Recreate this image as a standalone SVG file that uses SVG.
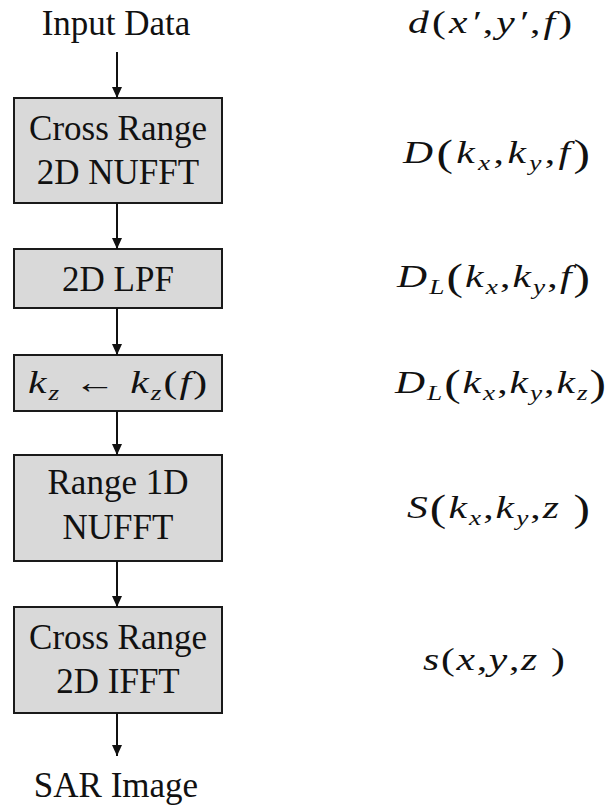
<svg xmlns="http://www.w3.org/2000/svg" width="607" height="806" viewBox="0 0 607 806">
<defs>
<marker id="ah" viewBox="0 0 11 10" refX="11" refY="5" markerWidth="11" markerHeight="10" orient="auto" markerUnits="userSpaceOnUse">
<path d="M0,0 L11,5 L0,10 z" fill="#111"/>
</marker>
<style>
.box{fill:#d9d9d9;stroke:#1a1a1a;stroke-width:2}
.t{font-family:'Liberation Serif','Times New Roman',serif;font-size:35px;fill:#111;text-anchor:middle}
.m{font-family:'Liberation Serif','Times New Roman',serif;font-style:italic;font-size:32px;fill:#111}
.sub{font-size:21px}
.bp{font-size:38px;font-style:normal}
.edge{stroke:#111;stroke-width:2;fill:none;marker-end:url(#ah)}
</style>
</defs>
<rect width="607" height="806" fill="#fff"/>
<g id="input"><text class="t" x="116" y="35">Input Data</text></g>
<g id="n1"><rect class="box" x="14" y="98" width="208" height="105"/>
<text class="t" x="118" y="140">Cross Range</text><text class="t" x="118" y="184">2D NUFFT</text></g>
<g id="n2"><rect class="box" x="14" y="249" width="208" height="59"/>
<text class="t" x="118" y="291">2D LPF</text></g>
<g id="n3"><rect class="box" x="14" y="355" width="208" height="56"/>
<text class="m" transform="translate(28,393) scale(1.3,1)" x="0" y="0" textLength="137.7" lengthAdjust="spacing">k<tspan class="sub" dy="7">z</tspan><tspan dy="-7" font-style="normal">  ← </tspan>k<tspan class="sub" dy="7">z</tspan><tspan dy="-7" font-style="normal">(</tspan>f<tspan font-style="normal">)</tspan></text></g>
<g id="n4"><rect class="box" x="14" y="455" width="208" height="106"/>
<text class="t" x="118" y="494">Range 1D</text><text class="t" x="118" y="539">NUFFT</text></g>
<g id="n5"><rect class="box" x="14" y="607" width="208" height="106"/>
<text class="t" x="118" y="649">Cross Range</text><text class="t" x="118" y="693">2D IFFT</text></g>
<g id="output"><text class="t" x="116" y="797">SAR Image</text></g>
<g id="connectors">
<line class="edge" x1="117" y1="52" x2="117" y2="98"/>
<line class="edge" x1="117" y1="203" x2="117" y2="249"/>
<line class="edge" x1="117" y1="308" x2="117" y2="355"/>
<line class="edge" x1="117" y1="411" x2="117" y2="455"/>
<line class="edge" x1="117" y1="561" x2="117" y2="607"/>
<line class="edge" x1="117" y1="713" x2="117" y2="756"/>
</g>
<g id="formulas">
<text class="m" transform="translate(408,33) scale(1.3,1)" x="0" y="0" textLength="126.2" lengthAdjust="spacing">d<tspan font-style="normal">(</tspan>x′<tspan font-style="normal">,</tspan>y′<tspan font-style="normal">,</tspan>f<tspan font-style="normal">)</tspan></text>
<text class="m" transform="translate(403,163) scale(1.3,1)" x="0" y="0" textLength="143.8" lengthAdjust="spacing">D<tspan class="bp" dy="3">(</tspan><tspan dy="-3">k</tspan><tspan class="sub" dy="7">x</tspan><tspan dy="-7" font-style="normal">,</tspan>k<tspan class="sub" dy="7">y</tspan><tspan dy="-7" font-style="normal">,</tspan>f<tspan class="bp" dy="3">)</tspan></text>
<text class="m" transform="translate(397,287) scale(1.3,1)" x="0" y="0" textLength="148.5" lengthAdjust="spacing">D<tspan class="sub" dy="7">L</tspan><tspan class="bp" dy="-4">(</tspan><tspan dy="-3">k</tspan><tspan class="sub" dy="7">x</tspan><tspan dy="-7" font-style="normal">,</tspan>k<tspan class="sub" dy="7">y</tspan><tspan dy="-7" font-style="normal">,</tspan>f<tspan class="bp" dy="3">)</tspan></text>
<text class="m" transform="translate(395,393) scale(1.3,1)" x="0" y="0" textLength="162.3" lengthAdjust="spacing">D<tspan class="sub" dy="7">L</tspan><tspan class="bp" dy="-4">(</tspan><tspan dy="-3">k</tspan><tspan class="sub" dy="7">x</tspan><tspan dy="-7" font-style="normal">,</tspan>k<tspan class="sub" dy="7">y</tspan><tspan dy="-7" font-style="normal">,</tspan>k<tspan class="sub" dy="7">z</tspan><tspan class="bp" dy="-4">)</tspan></text>
<text class="m" transform="translate(407,518) scale(1.3,1)" x="0" y="0" textLength="140.8" lengthAdjust="spacing">S<tspan class="bp" dy="3">(</tspan><tspan dy="-3">k</tspan><tspan class="sub" dy="7">x</tspan><tspan dy="-7" font-style="normal">,</tspan>k<tspan class="sub" dy="7">y</tspan><tspan dy="-7" font-style="normal">,</tspan>z <tspan class="bp" dy="3">)</tspan></text>
<text class="m" transform="translate(423,670) scale(1.3,1)" x="0" y="0" textLength="109.2" lengthAdjust="spacing">s<tspan font-style="normal">(</tspan>x<tspan font-style="normal">,</tspan>y<tspan font-style="normal">,</tspan>z <tspan font-style="normal">)</tspan></text>
</g>
</svg>
